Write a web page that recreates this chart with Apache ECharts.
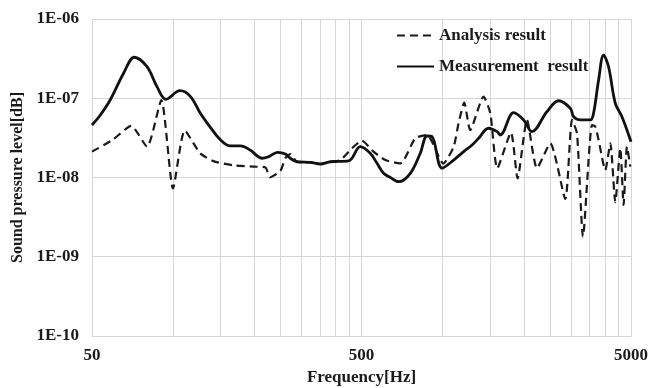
<!DOCTYPE html>
<html><head><meta charset="utf-8">
<script src="https://cdn.jsdelivr.net/npm/echarts@6/dist/echarts.min.js"></script>
<style>html,body{margin:0;padding:0;background:#fff}#c{width:650px;height:388px}</style>
</head><body><div id="c"></div>
<script>
// Measurement result (solid)
const freqMeas = [50, 53.7, 58.4, 65.5, 71.8, 80, 87.1, 94.1, 106, 116, 126, 134, 150, 163, 178, 193, 214, 226, 244, 261, 272, 288, 323, 352, 383, 448, 495, 539, 571, 604, 640, 687, 759, 826, 875, 913, 995, 1099, 1197, 1286, 1360, 1481, 1592, 1637, 1834, 1998, 2146, 2437, 2692, 2977, 3061, 3243, 3532, 3631, 3791, 3955, 4128, 4372, 4628, 5000];
const valMeas = [4.6e-8, 6.15e-8, 9.5e-8, 2.07e-7, 3.29e-7, 2.5e-7, 1.4e-7, 9.7e-8, 1.245e-7, 1.05e-7, 6.5e-8, 4.83e-8, 2.97e-8, 2.5e-8, 2.5e-8, 2.22e-8, 1.75e-8, 1.83e-8, 2.08e-8, 1.98e-8, 1.75e-8, 1.58e-8, 1.55e-8, 1.48e-8, 1.58e-8, 1.62e-8, 2.45e-8, 2.02e-8, 1.51e-8, 1.13e-8, 1.0e-8, 8.85e-9, 1.13e-8, 2.02e-8, 3.34e-8, 3.29e-8, 1.31e-8, 1.66e-8, 2.12e-8, 2.57e-8, 3.13e-8, 4.18e-8, 3.79e-8, 3.44e-8, 6.57e-8, 5.32e-8, 3.79e-8, 6.76e-8, 9.3e-8, 7.47e-8, 5.85e-8, 5.32e-8, 5.32e-8, 6.46e-8, 1.7e-7, 3.51e-7, 2.5e-7, 8.63e-8, 5.85e-8, 2.83e-8];
// Analysis result (dashed)
const freqAna = [50, 59.5, 69.9, 80, 90.4, 99.9, 110.5, 126, 141, 168, 199, 220, 229, 250, 261, 272, 288, 323, 352, 383, 417, 461, 502, 554, 613, 697, 792, 875, 1006, 1099, 1146, 1203, 1266, 1419, 1503, 1595, 1793, 1897, 2056, 2239, 2509, 2852, 3020, 3152, 3318, 3584, 3686, 3791, 4013, 4190, 4372, 4563, 4693, 4831, 4967];
const valAna = [2.12e-8, 2.97e-8, 4.47e-8, 2.45e-8, 9.5e-8, 7.3e-9, 3.92e-8, 2.02e-8, 1.61e-8, 1.42e-8, 1.37e-8, 1.34e-8, 1.01e-8, 1.21e-8, 1.76e-8, 1.98e-8, 1.58e-8, 1.55e-8, 1.48e-8, 1.58e-8, 1.66e-8, 2.34e-8, 2.91e-8, 2.12e-8, 1.66e-8, 1.51e-8, 3.13e-8, 3.44e-8, 1.5e-8, 2.45e-8, 4.83e-8, 8.79e-8, 3.97e-8, 1.05e-7, 6.46e-8, 1.31e-8, 3.68e-8, 9.77e-9, 5.32e-8, 1.31e-8, 2.7e-8, 5.35e-9, 5.32e-8, 3.61e-8, 1.79e-9, 4.6e-8, 4.38e-8, 2.97e-8, 1.24e-8, 2.7e-8, 4.9e-9, 2.34e-8, 4.5e-9, 2.45e-8, 1.37e-8];
// Axis ticks
const xGridValues = [50, 100, 150, 200, 250, 300, 350, 400, 450, 500, 1000, 1500, 2000, 2500, 3000, 3500, 4000, 4500, 5000];
const xLabelValues = [50, 500, 5000];
const seriesNames = ['Analysis result', 'Measurement  result'];

const FONT = '"Liberation Serif","Times New Roman",serif';
const chart = echarts.init(document.getElementById('c'), null, {renderer: 'canvas'});
const pairs = (xs, ys) => xs.map((x, i) => [x, ys[i]]);
const gridColor = '#d6d6d6';

chart.setOption({
  animation: false,
  backgroundColor: '#fff',
  grid: {left: 92, right: 19, top: 19, bottom: 52, containLabel: false, outerBoundsMode: 'none'},
  legend: {
    orient: 'vertical', left: 396, top: 27, padding: 0,
    itemWidth: 37, itemHeight: 14, itemGap: 14,
    itemStyle: {opacity: 0},
    data: seriesNames,
    textStyle: {fontFamily: FONT, fontWeight: 'bold', fontSize: 17, color: '#1a1a1a'}
  },
  xAxis: {
    type: 'log', logBase: 10, min: 50, max: 5000,
    name: 'Frequency[Hz]', nameLocation: 'middle', nameGap: 32,
    nameTextStyle: {fontFamily: FONT, fontWeight: 'bold', fontSize: 17, color: '#1a1a1a'},
    axisLine: {show: true, lineStyle: {color: gridColor, width: 1}},
    axisTick: {show: false, customValues: xGridValues},
    axisLabel: {customValues: xLabelValues, margin: 11, formatter: v => String(Math.round(v)),
      fontFamily: FONT, fontWeight: 'bold', fontSize: 17, color: '#1a1a1a'},
    splitLine: {show: true, lineStyle: {color: gridColor, width: 1}}
  },
  yAxis: {
    type: 'log', logBase: 10, min: 1e-10, max: 1e-6,
    name: 'Sound pressure level[dB]', nameLocation: 'middle', nameGap: 65, nameRotate: 90,
    nameTextStyle: {fontFamily: FONT, fontWeight: 'bold', fontSize: 16, color: '#1a1a1a'},
    axisLine: {show: true, lineStyle: {color: gridColor, width: 1}},
    axisTick: {show: false},
    axisLabel: {margin: 13, fontFamily: FONT, fontWeight: 'bold', fontSize: 17, color: '#1a1a1a',
      formatter: v => { const e = Math.round(Math.log10(v)); return '1E-' + String(-e).padStart(2, '0'); }},
    splitLine: {show: true, lineStyle: {color: gridColor, width: 1}}
  },
  series: [
    {name: seriesNames[0], type: 'line', data: pairs(freqAna, valAna), showSymbol: false, symbol: 'none',
     smooth: 0.2, color: '#1a1a1a', lineStyle: {color: '#1a1a1a', width: 2.2, type: [8, 5]}},
    {name: seriesNames[1], type: 'line', data: pairs(freqMeas, valMeas), showSymbol: false, symbol: 'none',
     smooth: 0.35, color: '#111', lineStyle: {color: '#111', width: 2.8}}
  ]
});
</script></body></html>
